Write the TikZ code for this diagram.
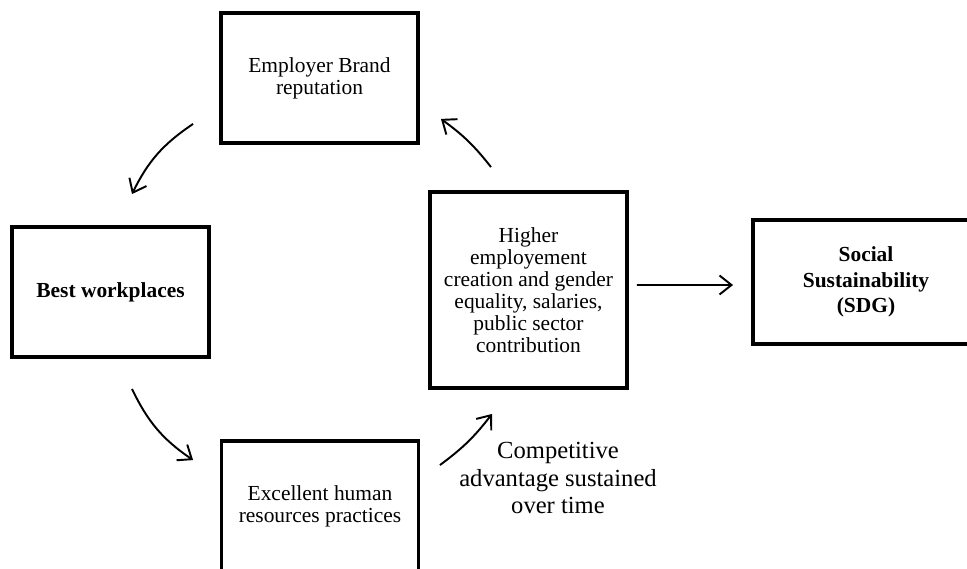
\documentclass[tikz,border=0pt]{standalone}
\usepackage{fontspec}
\setmainfont{Liberation Serif}
\usetikzlibrary{arrows.meta}
\begin{document}
\begin{tikzpicture}[
    box/.style={draw, line width=2.2pt, minimum width=3.94cm, minimum height=2.6cm, align=center, inner sep=2pt, font=\fontsize{12.2}{12.5}\selectfont},
    flow/.style={-{Straight Barb[length=2.4mm,width=3.8mm]}, line width=1.1pt},
    note/.style={align=center, font=\fontsize{14}{15.9}\selectfont}
]
    \useasboundingbox (0,0) rectangle (19.34,11.36);

    % Caixas do ciclo
    \node[box] (brand) at (6.39,9.80) {Employer Brand\\reputation};
    \node[box] (best) at (2.21,5.52) {\bfseries Best workplaces};
    \node[box] (excellent) at (6.40,1.24) {Excellent human\\resources practices};
    \node[box, minimum height=3.92cm] (higher) at (10.57,5.56)
        {Higher\\employement\\creation and gender\\equality, salaries,\\public sector\\contribution};

    % Caixa de resultado
    \node[box, minimum width=4.52cm, minimum height=2.48cm, font=\fontsize{12.2}{14.5}\selectfont\bfseries] (social) at (17.32,5.72)
        {Social\\Sustainability\\(SDG)};

    % Texto livre
    \node[note] (advantage) at (11.16,1.80) {Competitive\\advantage sustained\\over time};

    % Setas do ciclo
    \draw[flow] ([xshift=-0.52cm,yshift=0.42cm]brand.south west) to[bend right=15] ([xshift=0.43cm,yshift=0.62cm]best.north);
    \draw[flow] ([xshift=0.43cm,yshift=-0.60cm]best.south) to[bend right=15] ([xshift=-0.53cm,yshift=-0.42cm]excellent.north west);
    \draw[flow] ([xshift=0.39cm,yshift=-0.52cm]excellent.north east) to[bend right=8] ([xshift=-0.73cm,yshift=-0.48cm]higher.south);
    \draw[flow] ([xshift=-0.75cm,yshift=0.46cm]higher.north) to[bend right=8] ([xshift=0.42cm,yshift=0.52cm]brand.south east);

    % Seta para a sustentabilidade
    \draw[flow] ([xshift=0.16cm,yshift=0.10cm]higher.east) -- ([xshift=-0.36cm,yshift=-0.06cm]social.west);

\end{tikzpicture}
\end{document}
